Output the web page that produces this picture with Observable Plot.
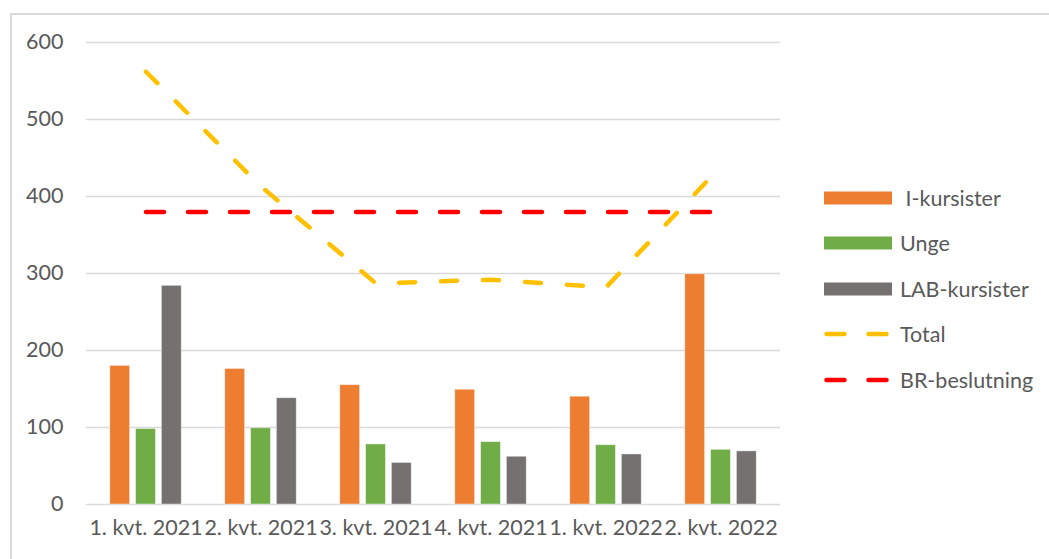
<!DOCTYPE html>
<html>
<head>
<meta charset="utf-8">
<script src="https://cdn.jsdelivr.net/npm/d3@7"></script>
<script src="https://cdn.jsdelivr.net/npm/@observablehq/plot@0.6"></script>
<style>
  html, body { margin: 0; padding: 0; background: #fff; }
  #wrap { position: relative; width: 1049px; height: 559px; overflow: hidden; font-family: Lato, "Open Sans", sans-serif; }
  #border { position: absolute; left: 10px; top: 13px; width: 1200px; height: 700px; border: 2px solid #d9d9d9; box-sizing: border-box; }
  #chart { position: absolute; left: 0; top: 0; }
  #legend { position: absolute; left: 824px; top: 0; }
  .item { position: absolute; left: 0; display: flex; align-items: center; height: 30px; white-space: nowrap; color: #595959; font-size: 21.5px; }
  .item svg { margin-right: 8px; }
</style>
</head>
<body>
<div id="wrap">
  <div id="border"></div>
  <div id="chart"></div>
  <div id="legend"></div>
</div>
<script>
const categories = ["1. kvt. 2021", "2. kvt. 2021", "3. kvt. 2021", "4. kvt. 2021", "1. kvt. 2022", "2. kvt. 2022"];
const iKursister = [180, 176, 155, 149, 140, 299];
const unge = [98, 99, 78, 81, 77, 71];
const labKursister = [284, 138, 54, 62, 65, 69];
const total = [562, 413, 287, 292, 282, 439];
const brBeslutning = [380, 380, 380, 380, 380, 380];
const yTicks = [0, 100, 200, 300, 400, 500, 600];

const seriesNames = [" I-kursister", "Unge", "LAB-kursister", "Total", "BR-beslutning"];
const colors = {orange: "#ED7D31", green: "#70AD47", gray: "#767171", yellow: "#FFC000", red: "#FF0000"};

const rows = categories.map((c, i) => ({
  cat: c, i: iKursister[i], u: unge[i], lab: labKursister[i], total: total[i], br: brBeslutning[i]
}));

const W = 1049, H = 559;
const mL = 86, mR = 269, mT = 42, mB = 55;
const band = (W - mL - mR) / categories.length;
const barW = 20.5;
const inset = (band - barW) / 2;
const off = 25.8;

const barOpts = (key, fill, dx) => Plot.barY(rows, {
  x: "cat", y: key, fill, dx, insetLeft: inset, insetRight: inset,
  stroke: "#ffffff", strokeOpacity: 0.5, strokeWidth: 0.8
});

const chart = Plot.plot({
  width: W, height: H,
  marginLeft: mL, marginRight: mR, marginTop: mT, marginBottom: mB,
  style: {fontFamily: "Lato, 'Open Sans', sans-serif", fontSize: "21.5px", color: "#595959", background: "transparent"},
  x: {type: "band", domain: categories, padding: 0, label: null},
  y: {domain: [0, 600], label: null},
  marks: [
    Plot.ruleY(yTicks, {stroke: "#d9d9d9", strokeWidth: 1.5}),
    Plot.axisY(yTicks, {tickSize: 0, tickPadding: 23, fontSize: 21.5, label: null}),
    Plot.axisX({tickSize: 0, tickPadding: 15, fontSize: 21.5, label: null}),
    barOpts("i", colors.orange, -off),
    barOpts("u", colors.green, 0),
    barOpts("lab", colors.gray, off),
    Plot.lineY(rows, {x: "cat", y: "total", stroke: colors.yellow, strokeWidth: 4.5,
      strokeDasharray: "16,26", strokeLinecap: "round", strokeLinejoin: "round"}),
    Plot.lineY(rows, {x: "cat", y: "br", stroke: colors.red, strokeWidth: 4.5,
      strokeDasharray: "18,24", strokeLinecap: "round"})
  ]
});
document.getElementById("chart").appendChild(chart);

// Legend
const legend = document.getElementById("legend");
const legendItems = [
  {name: seriesNames[0], color: colors.orange, kind: "bar", y: 198},
  {name: seriesNames[1], color: colors.green, kind: "bar", y: 243},
  {name: seriesNames[2], color: colors.gray, kind: "bar", y: 289},
  {name: seriesNames[3], color: colors.yellow, kind: "line", y: 334},
  {name: seriesNames[4], color: colors.red, kind: "line", y: 380}
];
for (const it of legendItems) {
  const div = document.createElement("div");
  div.className = "item";
  div.style.top = (it.y - 15) + "px";
  const swatch = it.kind === "bar"
    ? `<svg width="68" height="14"><rect x="0" y="0.5" width="68" height="13" fill="${it.color}"/></svg>`
    : `<svg width="68" height="14"><line x1="2.5" x2="65.5" y1="7" y2="7" stroke="${it.color}" stroke-width="4.5" stroke-linecap="round" stroke-dasharray="18,24"/></svg>`;
  div.innerHTML = swatch + `<span style="white-space:pre">${it.name}</span>`;
  legend.appendChild(div);
}
</script>
</body>
</html>
